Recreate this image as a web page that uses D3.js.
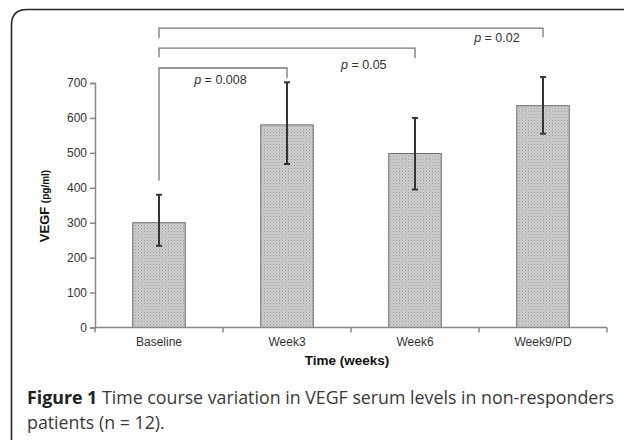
<!DOCTYPE html>
<html>
<head>
<meta charset="utf-8">
<script src="https://cdn.jsdelivr.net/npm/d3@7"></script>
<style>
  body { margin: 0; background: #fff; }
  svg { display: block; }
</style>
</head>
<body>
<svg id="chart"></svg>
<script>
// data
const categories = ['Baseline', 'Week3', 'Week6', 'Week9/PD']
const means = [300, 580, 498, 635]
const errUpper = [380, 702, 600, 717]
const errLower = [234, 468, 395, 555]
const yTicks = [0, 100, 200, 300, 400, 500, 600, 700]

// significance brackets: from Baseline to target category
const bracketTo = [1, 2, 3]
const bracketLabels = ['0.008', '0.05', '0.02']
const bracketTop = [743, 800, 857]
const bracketLeftEnd = [420, 774, 829]
const bracketRightEnd = [714, 771, 831]
const labelAlong = [0.48, 0.8, 0.88]
const labelY = [697, 740, 818]

const width = 624
const height = 440
const svg = d3.select('#chart').attr('width', width).attr('height', height)

// frame (rounded corner at top-left, runs off the right and bottom)
svg.append('path')
    .attr('d', 'M11.5,440 L11.5,25 Q11.5,9.5 27,9.5 L630,9.5')
    .attr('fill', 'none')
    .attr('stroke', '#222')
    .attr('stroke-width', 1.6)

const xScale = d3.scaleBand()
    .domain(categories)
    .range([95, 607])
    .paddingInner(0.59)
    .paddingOuter(0.295)

const xEdges = d3.scaleBand().domain(categories).range([95, 607])

const yScale = d3.scaleLinear().domain([0, 700]).range([327.5, 83])

const cx = (i) => xScale(categories[i]) + xScale.bandwidth() / 2

// bar pattern
const defs = svg.append('defs')
const pat = defs.append('pattern')
    .attr('id', 'dots')
    .attr('width', 3)
    .attr('height', 3)
    .attr('patternUnits', 'userSpaceOnUse')
pat.append('rect').attr('width', 3).attr('height', 3).attr('fill', '#cdcdcd')
pat.append('rect').attr('width', 1).attr('height', 1).attr('fill', '#a0a0a0')
pat.append('rect').attr('x', 1.5).attr('y', 1.5).attr('width', 1).attr('height', 1).attr('fill', '#b4b4b4')

svg.selectAll('rect.bar')
    .data(means)
    .enter()
    .append('rect')
    .attr('class', 'bar')
    .attr('x', (d, i) => xScale(categories[i]))
    .attr('y', (d) => yScale(d))
    .attr('width', xScale.bandwidth())
    .attr('height', (d) => yScale(0) - yScale(d))
    .attr('fill', 'url(#dots)')
    .attr('stroke', '#6a6a6a')
    .attr('stroke-width', 1)

// axes
const yAxis = svg.append('g')
    .attr('transform', 'translate(95,0)')
    .call(d3.axisLeft(yScale).tickValues(yTicks).tickSize(5).tickPadding(3))
const xAxis = svg.append('g')
    .attr('transform', `translate(0,${yScale(0)})`)
    .call(d3.axisBottom(xEdges).tickSize(0).tickPadding(10))

// category boundary ticks on x axis
svg.selectAll('line.xtick')
    .data(d3.range(categories.length + 1))
    .enter()
    .append('line')
    .attr('class', 'xtick')
    .attr('x1', (i) => 95 + i * xEdges.step())
    .attr('x2', (i) => 95 + i * xEdges.step())
    .attr('y1', yScale(0))
    .attr('y2', yScale(0) + 5)
    .attr('stroke', '#888')
    .attr('stroke-width', 1.5)

for (const ax of [xAxis, yAxis]) {
    ax.select('.domain').attr('stroke', '#888').attr('stroke-width', 1.5)
    ax.selectAll('.tick line').attr('stroke', '#888').attr('stroke-width', 1.5)
    ax.selectAll('.tick text')
        .attr('fill', '#333')
        .style('font-family', 'Liberation Sans, Arial, sans-serif')
        .style('font-size', '12px')
}
xAxis.select('.domain').attr('d', `M95,0H607`)

// error bars
const eb = svg.append('g').attr('stroke', '#333').attr('stroke-width', 2)
eb.selectAll('line.v')
    .data(means)
    .enter()
    .append('line')
    .attr('x1', (d, i) => cx(i))
    .attr('x2', (d, i) => cx(i))
    .attr('y1', (d, i) => yScale(errUpper[i]))
    .attr('y2', (d, i) => yScale(errLower[i]))
eb.selectAll('line.cap')
    .data(errUpper.concat(errLower))
    .enter()
    .append('line')
    .attr('x1', (d, i) => cx(i % 4) - 3)
    .attr('x2', (d, i) => cx(i % 4) + 3)
    .attr('y1', (d) => yScale(d))
    .attr('y2', (d) => yScale(d))

// brackets
const br = svg.append('g')
bracketTo.forEach((t, k) => {
    const x0 = cx(0)
    const x1 = cx(t)
    br.append('path')
        .attr('d', `M${x0},${yScale(bracketLeftEnd[k])}V${yScale(bracketTop[k])}H${x1}V${yScale(bracketRightEnd[k])}`)
        .attr('fill', 'none')
        .attr('stroke', '#777')
        .attr('stroke-width', 1.3)
    const txt = br.append('text')
        .attr('x', x0 + (x1 - x0) * labelAlong[k])
        .attr('y', yScale(labelY[k]))
        .attr('text-anchor', 'middle')
        .attr('fill', '#333')
        .style('font-family', 'Liberation Sans, Arial, sans-serif')
        .style('font-size', '12.5px')
    txt.append('tspan').attr('font-style', 'italic').text('p')
    txt.append('tspan').text(' = ' + bracketLabels[k])
})

// axis titles
const yl = svg.append('text')
    .attr('transform', 'translate(49,206) rotate(-90)')
    .attr('text-anchor', 'middle')
    .attr('fill', '#111')
    .style('font-family', 'Liberation Sans, Arial, sans-serif')
    .style('font-weight', 'bold')
yl.append('tspan').style('font-size', '13px').text('VEGF ')
yl.append('tspan').style('font-size', '10px').text('(pg/ml)')

svg.append('text')
    .attr('x', 347)
    .attr('y', 365)
    .attr('text-anchor', 'middle')
    .attr('fill', '#111')
    .style('font-family', 'Liberation Sans, Arial, sans-serif')
    .style('font-weight', 'bold')
    .style('font-size', '13.5px')
    .text('Time (weeks)')

// caption
const cap = svg.append('text')
    .attr('x', 27)
    .attr('y', 404)
    .attr('fill', '#3a3a3a')
    .style('font-family', 'Open Sans, sans-serif')
    .style('font-size', '17.8px')
cap.append('tspan').style('font-weight', 'bold').attr('fill', '#222').text('Figure 1')
cap.append('tspan').text(' Time course variation in VEGF serum levels in non-responders')
svg.append('text')
    .attr('x', 27)
    .attr('y', 429)
    .attr('fill', '#3a3a3a')
    .style('font-family', 'Open Sans, sans-serif')
    .style('font-size', '17.8px')
    .text('patients (n = 12).')
</script>
</body>
</html>
